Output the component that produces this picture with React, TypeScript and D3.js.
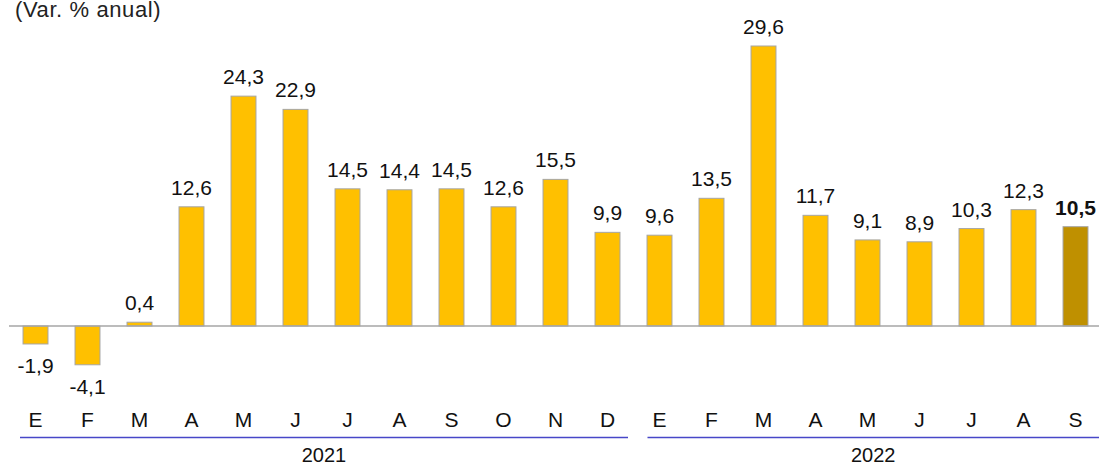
import React from "react";
import * as d3 from "d3";

const months = ["E","F","M","A","M","J","J","A","S","O","N","D","E","F","M","A","M","J","J","A","S"];
const values = [-1.9,-4.1,0.4,12.6,24.3,22.9,14.5,14.4,14.5,12.6,15.5,9.9,9.6,13.5,29.6,11.7,9.1,8.9,10.3,12.3,10.5];
const years = [
  { label: "2021", from: 0, to: 11 },
  { label: "2022", from: 12, to: 20 },
];
const title = "(Var. % anual)";

const W = 1099, H = 466;
const FONT = "Liberation Sans, Arial, sans-serif";

export default function App() {
  const idx = values.map((_, i) => i);
  const x = d3.scaleBand<number>().domain(idx).range([9.5, 9.5 + 21 * 52]).paddingInner(0.52).paddingOuter(0.26);
  const y = d3.scaleLinear().domain([0, 29.6]).range([326, 46]);
  const fmt = (v: number) => v.toFixed(1).replace(".", ",");
  const last = values.length - 1;
  const lines = [
    { x1: 20, x2: (x(11) as number) + x.bandwidth() / 2 + 20.5 },
    { x1: (x(12) as number) + x.bandwidth() / 2 - 12, x2: W },
  ];
  return (
    <svg width={W} height={H} style={{ position: "absolute", left: 0, top: 0 }} fontFamily={FONT}>
      <text x={15} y={17} fontSize={22} fill="#222" letterSpacing={0.6}>{title}</text>
      {values.map((v, i) => {
        const bx = x(i) as number;
        const y0 = y(Math.max(0, v));
        const h = Math.abs(y(v) - y(0));
        return (
          <rect key={"b" + i} x={bx} y={y0} width={x.bandwidth()} height={h}
            fill={i === last ? "#BF9000" : "#FFC000"} stroke="#A6A6A6" strokeWidth={1} />
        );
      })}
      <line x1={9} x2={W} y1={y(0)} y2={y(0)} stroke="#A6A6A6" strokeWidth={1.5} />
      {values.map((v, i) => {
        const cx = (x(i) as number) + x.bandwidth() / 2;
        const ty = v >= 0 ? y(v) - 12 : y(v) + 29;
        return (
          <text key={"l" + i} x={cx} y={ty} textAnchor="middle" fontSize={21}
            fontWeight={i === last ? "bold" : "normal"} fill="#111">{fmt(v)}</text>
        );
      })}
      {months.map((m, i) => (
        <text key={"m" + i} x={(x(i) as number) + x.bandwidth() / 2} y={427} textAnchor="middle" fontSize={21} fill="#111">{m}</text>
      ))}
      {years.map((yr, k) => (
        <g key={yr.label}>
          <line x1={lines[k].x1} x2={lines[k].x2} y1={437.5} y2={437.5} stroke="#4747C8" strokeWidth={1.5} />
          <text x={(lines[k].x1 + lines[k].x2) / 2} y={462} textAnchor="middle" fontSize={20} fill="#111">{yr.label}</text>
        </g>
      ))}
    </svg>
  );
}
